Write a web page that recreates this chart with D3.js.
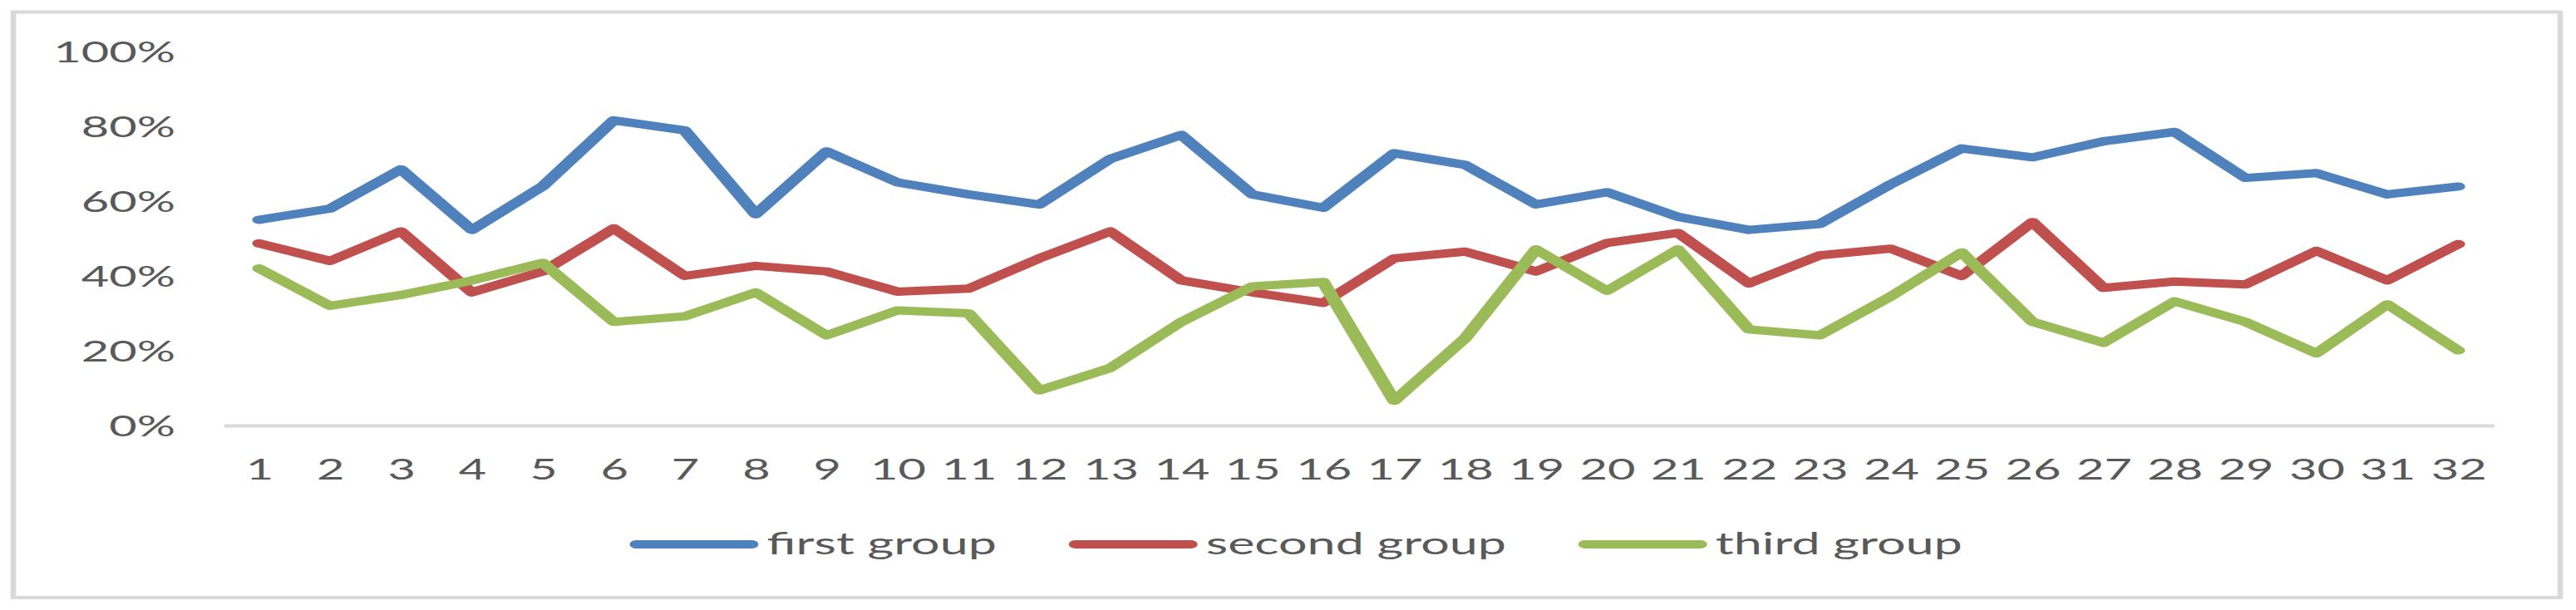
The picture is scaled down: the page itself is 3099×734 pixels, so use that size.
<!DOCTYPE html>
<html>
<head>
<meta charset="utf-8">
<script src="https://cdn.jsdelivr.net/npm/d3@7"></script>
<style>
  html, body { margin: 0; padding: 0; background: #ffffff; }
  svg { display: block; }
</style>
</head>
<body>
<svg id="chart"></svg>
<script>
// ---------------- data ----------------
const categories = d3.range(1, 33).map(String);
const seriesNames = ["first group", "second group", "third group"];
const firstGroup = [55, 58, 68.5, 52.3, 64, 81.6, 78.9, 56.5, 73.3, 65, 61.8, 59.1, 71.3, 77.7, 61.8, 58.2,
                    72.8, 69.7, 59.1, 62.4, 55.8, 52.3, 53.9, 64.5, 74.1, 71.7, 76, 78.5, 66.2, 67.5, 61.8, 63.9];
const secondGroup = [48.7, 44, 51.9, 35.6, 41.2, 52.7, 40, 42.7, 41.2, 35.8, 36.6, 44.7, 51.9, 38.8, 35.6, 32.8,
                     44.7, 46.5, 41.2, 48.8, 51.5, 38, 45.5, 47.3, 40, 54.4, 36.8, 38.5, 37.7, 46.7, 38.8, 48.5];
const thirdGroup = [42, 32, 34.9, 38.8, 43.5, 27.7, 29.2, 35.6, 24.1, 30.8, 30, 9.4, 15.4, 27.7, 37.2, 38.4,
                    6.6, 23.3, 47.1, 36, 47.1, 25.7, 24.1, 34.5, 46.3, 27.7, 22.1, 33.2, 27.7, 19.3, 32.4, 20.1];
const yTicks = [0, 20, 40, 60, 80, 100];
const seriesColors = ["#4F81BD", "#C0504D", "#9BBB59"];

// ---------------- layout ----------------
const W = 3099, H = 734;
const K = 1.65;               // horizontal stretch of the picture
const X = v => v / K;         // real px -> viewBox units
const VW = W / K;
const FONT = "Lato, 'Open Sans', sans-serif";
const TEXT = "#595959";
const GRID = "#d9d9d9";

const svg = d3.select("#chart")
  .attr("width", W).attr("height", H)
  .attr("viewBox", `0 0 ${VW} ${H}`)
  .attr("preserveAspectRatio", "none");

svg.append("rect").attr("x", 0).attr("y", 0).attr("width", VW).attr("height", H).attr("fill", "#fff");

// chart frame
svg.append("rect")
  .attr("x", X(16)).attr("y", 14.5)
  .attr("width", X(3080) - X(16)).attr("height", 719 - 14.5)
  .attr("fill", "none").attr("stroke", GRID).attr("stroke-width", 4);

const x = d3.scalePoint().domain(categories).range([X(269), X(3000)]).padding(0.5);
const y = d3.scaleLinear().domain([0, 100]).range([512, 62]);

// x axis
const gx = svg.append("g").attr("transform", `translate(0,${y(0)})`)
  .call(d3.axisBottom(x).tickSize(0).tickSizeOuter(0));
gx.select(".domain").attr("stroke", GRID).attr("stroke-width", 4);
gx.selectAll(".tick text")
  .attr("y", 577 - 512).attr("dy", 0)
  .attr("fill", TEXT).attr("font-family", FONT).attr("font-size", 35);

// y axis
const gy = svg.append("g").attr("transform", `translate(${X(211)},0)`)
  .call(d3.axisLeft(y).tickValues(yTicks).tickFormat(d => d + "%").tickSize(0).tickPadding(0));
gy.select(".domain").remove();
gy.selectAll(".tick text")
  .attr("dy", "0.36em")
  .attr("fill", TEXT).attr("font-family", FONT).attr("font-size", 35);

// lines
const allSeries = [firstGroup, secondGroup, thirdGroup];
const line = d3.line().x((d, i) => x(categories[i])).y(d => y(d));
svg.append("g").selectAll("path")
  .data(allSeries)
  .join("path")
  .attr("d", line)
  .attr("fill", "none")
  .attr("stroke", (d, i) => seriesColors[i])
  .attr("stroke-width", 10)
  .attr("stroke-linejoin", "round")
  .attr("stroke-linecap", "round");

// legend
const legendY = 655;
const sampleLen = X(155), capR = 5;
const legend = svg.append("g");
const items = legend.selectAll("g").data(seriesNames).join("g");
items.append("line")
  .attr("x1", capR).attr("x2", sampleLen - capR)
  .attr("y1", legendY).attr("y2", legendY)
  .attr("stroke", (d, i) => seriesColors[i])
  .attr("stroke-width", 10).attr("stroke-linecap", "round");
items.append("text")
  .attr("x", sampleLen + X(10))
  .attr("y", legendY).attr("dy", "0.32em")
  .attr("fill", TEXT).attr("font-family", FONT).attr("font-size", 37)
  .text(d => d);
const itemGap = X(95);
let widths = [];
items.each(function () { widths.push(this.getBBox().width); });
const total = d3.sum(widths) + itemGap * (widths.length - 1);
let cur = X(1555) - total / 2;
items.attr("transform", (d, i) => {
  const t = `translate(${cur},0)`;
  cur += widths[i] + itemGap;
  return t;
});
</script>
</body>
</html>
